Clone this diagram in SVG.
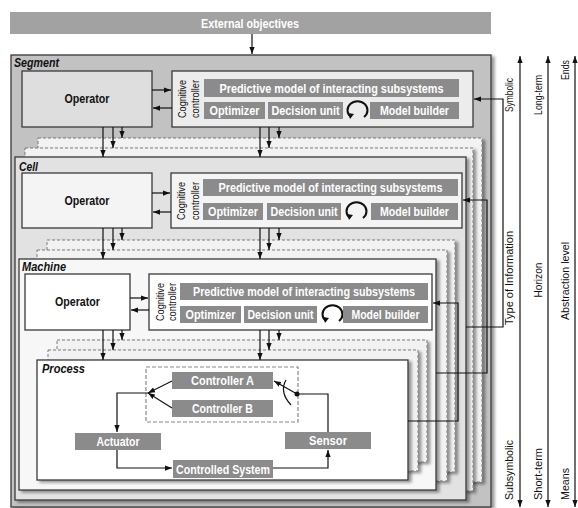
<svg xmlns="http://www.w3.org/2000/svg" width="578" height="508" viewBox="0 0 578 508">
<defs>
<marker id="ah" viewBox="0 0 8 6" refX="8" refY="3" markerWidth="7" markerHeight="6" markerUnits="userSpaceOnUse" orient="auto-start-reverse"><path d="M0,0 L8,3 L0,6 z" fill="#111"/></marker>
<filter id="sh" x="-5%" y="-5%" width="115%" height="115%"><feDropShadow dx="3" dy="2" stdDeviation="1.8" flood-color="#000" flood-opacity="0.4"/></filter>
</defs>
<style>
text{font-family:"Liberation Sans Narrow","Liberation Sans",Arial,sans-serif}
.box{stroke:#3a3a3a;stroke-width:1.3}
.copy{fill:#f2f2f2;stroke:#7a7a7a;stroke-width:1;stroke-dasharray:3,2}
.bar{fill:#8b8b8b}
.bt{fill:#fff;font-weight:bold;font-size:12px;text-anchor:middle}
.op{fill:#111;font-weight:bold;font-size:12px;text-anchor:middle}
.lvl{fill:#111;font-weight:bold;font-style:italic;font-size:12px}
.cog{fill:#111;font-size:10px;text-anchor:middle}
.ax{fill:#111;font-size:11px;text-anchor:middle}
.cn line,.cn path{stroke:#111;stroke-width:1.2;fill:none}
.ar{marker-end:url(#ah)}
.pl{stroke:#333;stroke-width:1;fill:none}
</style>
<rect width="578" height="508" fill="#fff"/>

<g id="external-objectives">
<rect x="10" y="12" width="481" height="22" fill="#a2a2a2"/>
<text class="bt" x="250" y="28" textLength="98" lengthAdjust="spacingAndGlyphs">External objectives</text>
</g>

<g id="segment">
<rect class="box" x="11" y="55" width="480" height="452" fill="#c2c2c2" filter="url(#sh)"/>
<text class="lvl" x="14" y="67" textLength="45" lengthAdjust="spacingAndGlyphs">Segment</text>
</g>
<g id="segment-operator">
<rect class="box" x="22" y="71" width="130" height="56" fill="#dedede"/>
<text class="op" x="87" y="103" textLength="45" lengthAdjust="spacingAndGlyphs">Operator</text>
</g>
<g id="segment-cc">
<rect class="box" x="172" y="71" width="301" height="56" fill="#ececec"/>
<text class="cog" transform="translate(186,99) rotate(-90)" textLength="38" lengthAdjust="spacingAndGlyphs">Cognitive</text>
<text class="cog" transform="translate(199,99) rotate(-90)" textLength="38" lengthAdjust="spacingAndGlyphs">controller</text>
<rect class="bar" x="204" y="79" width="255" height="18"/>
<text class="bt" x="331.5" y="92.5" textLength="224" lengthAdjust="spacingAndGlyphs">Predictive model of interacting subsystems</text>
<rect class="bar" x="204" y="102" width="61" height="17"/>
<text class="bt" x="234.5" y="115" textLength="50" lengthAdjust="spacingAndGlyphs">Optimizer</text>
<rect class="bar" x="268" y="102" width="75" height="17"/>
<text class="bt" x="305.5" y="115" textLength="68" lengthAdjust="spacingAndGlyphs">Decision unit</text>
<path d="M351 117 A10 9 0 1 1 364 117" stroke="#111" stroke-width="2" fill="none"/>
<path d="M348 113 L354 114 L350 119 z" fill="#111"/>
<rect class="bar" x="370" y="102" width="89" height="17"/>
<text class="bt" x="414.5" y="115" textLength="69" lengthAdjust="spacingAndGlyphs">Model builder</text>
</g>

<g id="cell">
<rect class="copy" x="38" y="138" width="444" height="344" filter="url(#sh)"/>
<rect class="copy" x="25" y="148" width="448" height="343" filter="url(#sh)"/>
<rect class="box" x="15" y="157" width="451" height="343" fill="#e2e2e2" filter="url(#sh)"/>
<text class="lvl" x="19" y="171" textLength="19" lengthAdjust="spacingAndGlyphs">Cell</text>
</g>
<g id="cell-operator">
<rect class="box" x="22" y="173" width="130" height="55" fill="#f4f4f4"/>
<text class="op" x="87" y="205" textLength="45" lengthAdjust="spacingAndGlyphs">Operator</text>
</g>
<g id="cell-cc">
<rect class="box" x="171" y="173" width="291" height="55" fill="#f4f4f4"/>
<text class="cog" transform="translate(185,201) rotate(-90)" textLength="38" lengthAdjust="spacingAndGlyphs">Cognitive</text>
<text class="cog" transform="translate(199,201) rotate(-90)" textLength="38" lengthAdjust="spacingAndGlyphs">controller</text>
<rect class="bar" x="203" y="179" width="255" height="17"/>
<text class="bt" x="330.5" y="192" textLength="224" lengthAdjust="spacingAndGlyphs">Predictive model of interacting subsystems</text>
<rect class="bar" x="203" y="203" width="60" height="17"/>
<text class="bt" x="233" y="216" textLength="50" lengthAdjust="spacingAndGlyphs">Optimizer</text>
<rect class="bar" x="267" y="203" width="74" height="17"/>
<text class="bt" x="304" y="216" textLength="67" lengthAdjust="spacingAndGlyphs">Decision unit</text>
<path d="M350 218 A10 9 0 1 1 363 218" stroke="#111" stroke-width="2" fill="none"/>
<path d="M347 214 L353 215 L349 220 z" fill="#111"/>
<rect class="bar" x="371" y="203" width="87" height="17"/>
<text class="bt" x="414.5" y="216" textLength="69" lengthAdjust="spacingAndGlyphs">Model builder</text>
</g>

<g id="machine">
<rect class="copy" x="47" y="240" width="408" height="232" filter="url(#sh)"/>
<rect class="copy" x="37" y="250" width="410" height="231" filter="url(#sh)"/>
<rect class="box" x="19" y="259" width="417" height="231" fill="#f7f7f7" filter="url(#sh)"/>
<text class="lvl" x="22" y="271" textLength="44" lengthAdjust="spacingAndGlyphs">Machine</text>
</g>
<g id="machine-operator">
<rect class="box" x="25" y="274" width="105" height="56" fill="#fff"/>
<text class="op" x="77.5" y="306" textLength="45" lengthAdjust="spacingAndGlyphs">Operator</text>
</g>
<g id="machine-cc">
<rect class="box" x="149" y="274" width="283" height="56" fill="#fff"/>
<text class="cog" transform="translate(164,302) rotate(-90)" textLength="38" lengthAdjust="spacingAndGlyphs">Cognitive</text>
<text class="cog" transform="translate(176,302) rotate(-90)" textLength="38" lengthAdjust="spacingAndGlyphs">controller</text>
<rect class="bar" x="180" y="283" width="248" height="17"/>
<text class="bt" x="304" y="296" textLength="222" lengthAdjust="spacingAndGlyphs">Predictive model of interacting subsystems</text>
<rect class="bar" x="180" y="306" width="61" height="17"/>
<text class="bt" x="210.5" y="319" textLength="50" lengthAdjust="spacingAndGlyphs">Optimizer</text>
<rect class="bar" x="244" y="306" width="73" height="17"/>
<text class="bt" x="280.5" y="319" textLength="66" lengthAdjust="spacingAndGlyphs">Decision unit</text>
<path d="M326 321 A10 9 0 1 1 339 321" stroke="#111" stroke-width="2" fill="none"/>
<path d="M323 317 L329 318 L325 323 z" fill="#111"/>
<rect class="bar" x="343" y="306" width="85" height="17"/>
<text class="bt" x="385.5" y="319" textLength="68" lengthAdjust="spacingAndGlyphs">Model builder</text>
</g>

<g id="process">
<rect class="copy" x="57" y="340" width="370" height="122" fill="#fafafa" filter="url(#sh)"/>
<rect class="copy" x="48" y="350" width="370" height="121" filter="url(#sh)"/>
<rect class="box" x="37" y="360" width="371" height="120" fill="#fff" filter="url(#sh)"/>
<text class="lvl" x="42" y="373" textLength="43" lengthAdjust="spacingAndGlyphs">Process</text>
</g>
<g id="controller-group">
<rect x="146" y="367" width="152" height="55" fill="none" stroke="#888" stroke-width="1.2" stroke-dasharray="4,2"/>
</g>
<g id="controller-a">
<rect class="bar" x="172" y="372" width="101" height="17"/>
<text class="bt" x="222.5" y="385" textLength="63" lengthAdjust="spacingAndGlyphs">Controller A</text>
</g>
<g id="controller-b">
<rect class="bar" x="172" y="400" width="101" height="17"/>
<text class="bt" x="222.5" y="413" textLength="61" lengthAdjust="spacingAndGlyphs">Controller B</text>
</g>
<g id="actuator">
<rect class="bar" x="75" y="433" width="86" height="17"/>
<text class="bt" x="118" y="446" textLength="43" lengthAdjust="spacingAndGlyphs">Actuator</text>
</g>
<g id="controlled-system">
<rect class="bar" x="173" y="460" width="100" height="18"/>
<text class="bt" x="223" y="473.5" textLength="94" lengthAdjust="spacingAndGlyphs">Controlled System</text>
</g>
<g id="sensor">
<rect class="bar" x="285" y="432" width="86" height="17"/>
<text class="bt" x="328" y="445" textLength="38" lengthAdjust="spacingAndGlyphs">Sensor</text>
</g>

<g id="connectors" class="cn">
<line class="ar" x1="252" y1="34" x2="252" y2="54"/>
<line class="ar" x1="152" y1="90" x2="171" y2="90"/>
<line class="ar" x1="172" y1="108" x2="153" y2="108"/>
<line class="ar" x1="103" y1="127" x2="103" y2="157"/>
<line class="ar" x1="113" y1="127" x2="113" y2="148"/>
<line class="ar" x1="122" y1="127" x2="122" y2="138"/>
<line class="ar" x1="260" y1="127" x2="260" y2="157"/>
<line class="ar" x1="269" y1="127" x2="269" y2="148"/>
<line class="ar" x1="279" y1="127" x2="279" y2="138"/>
<line class="ar" x1="152" y1="193" x2="170" y2="193"/>
<line class="ar" x1="171" y1="212" x2="153" y2="212"/>
<line class="ar" x1="103" y1="228" x2="103" y2="259"/>
<line class="ar" x1="113" y1="228" x2="113" y2="250"/>
<line class="ar" x1="122" y1="228" x2="122" y2="240"/>
<line class="ar" x1="260" y1="228" x2="260" y2="259"/>
<line class="ar" x1="269" y1="228" x2="269" y2="250"/>
<line class="ar" x1="279" y1="228" x2="279" y2="240"/>
<line class="ar" x1="130" y1="298" x2="148" y2="298"/>
<line class="ar" x1="149" y1="310" x2="131" y2="310"/>
<line class="ar" x1="103" y1="330" x2="103" y2="360"/>
<line class="ar" x1="113" y1="330" x2="113" y2="350"/>
<line class="ar" x1="122" y1="330" x2="122" y2="340"/>
<line class="ar" x1="260" y1="330" x2="260" y2="360"/>
<line class="ar" x1="269" y1="330" x2="269" y2="350"/>
<line class="ar" x1="279" y1="330" x2="279" y2="340"/>
<path class="ar" d="M466 327 H503 V99 H474"/>
<path class="ar" d="M436 373 H487 V200 H463"/>
<path class="ar" d="M408 421 H458 V303 H433"/>
<path class="ar" d="M172 381 L148 393"/>
<path class="ar" d="M172 408 L148 393"/>
<path class="ar" d="M148 393 H117 V432"/>
<path class="ar" d="M117 450 V468 H172"/>
<path class="ar" d="M273 468 H328 V450"/>
<path d="M328 432 V394 H297"/>
<path class="ar" d="M297 394 L274 381"/>
<path d="M286 380 Q279 392 291 405"/>
<circle cx="297" cy="394" r="2.5" fill="#111"/>
<line x1="520" y1="56" x2="520" y2="507" style="marker-start:url(#ah);marker-end:url(#ah)"/>
<line x1="548" y1="56" x2="548" y2="507" style="marker-start:url(#ah);marker-end:url(#ah)"/>
<line x1="575" y1="56" x2="575" y2="507" style="marker-start:url(#ah);marker-end:url(#ah)"/>
</g>

<g id="axis-labels">
<text class="ax" transform="translate(513,95) rotate(-90)" textLength="34" lengthAdjust="spacingAndGlyphs">Symbolic</text>
<text class="ax" transform="translate(513,278) rotate(-90)" textLength="94" lengthAdjust="spacingAndGlyphs">Type of Information</text>
<text class="ax" transform="translate(513,470) rotate(-90)" textLength="60" lengthAdjust="spacingAndGlyphs">Subsymbolic</text>
<text class="ax" transform="translate(542,95) rotate(-90)" textLength="40" lengthAdjust="spacingAndGlyphs">Long-term</text>
<text class="ax" transform="translate(542,280) rotate(-90)" textLength="35" lengthAdjust="spacingAndGlyphs">Horizon</text>
<text class="ax" transform="translate(542,474) rotate(-90)" textLength="52" lengthAdjust="spacingAndGlyphs">Short-term</text>
<text class="ax" transform="translate(569,70) rotate(-90)" textLength="20" lengthAdjust="spacingAndGlyphs">Ends</text>
<text class="ax" transform="translate(569,281) rotate(-90)" textLength="78" lengthAdjust="spacingAndGlyphs">Abstraction level</text>
<text class="ax" transform="translate(569,484) rotate(-90)" textLength="32" lengthAdjust="spacingAndGlyphs">Means</text>
</g>
</svg>
